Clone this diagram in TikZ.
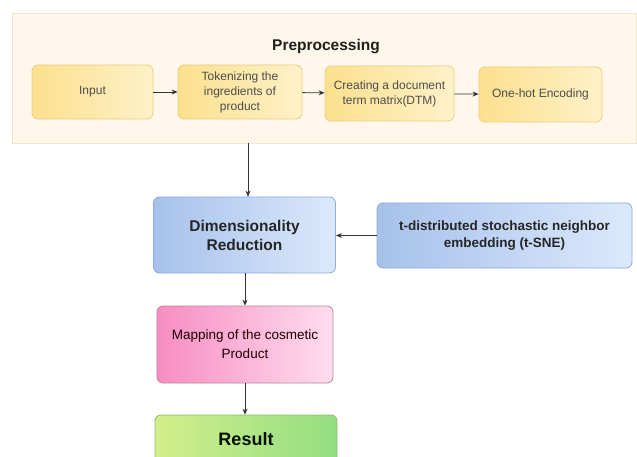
\documentclass[tikz,border=0pt]{standalone}
\usepackage{fontspec}
\setmainfont{Liberation Sans}
\usetikzlibrary{arrows.meta,shadows}
\definecolor{lineC}{HTML}{333333}
\definecolor{preFill}{HTML}{FEF7EA}
\definecolor{preLine}{HTML}{F1E6D0}
\definecolor{yelA}{HTML}{FBE08E}
\definecolor{yelB}{HTML}{FFF1C8}
\definecolor{yelLine}{HTML}{E9CE84}
\definecolor{bluA}{HTML}{A6C1EA}
\definecolor{bluB}{HTML}{DCE9FC}
\definecolor{bluLine}{HTML}{8FAAD6}
\definecolor{pnkA}{HTML}{F78DC2}
\definecolor{pnkB}{HTML}{FFDDEE}
\definecolor{pnkLine}{HTML}{B9849E}
\definecolor{grnA}{HTML}{D3EE8A}
\definecolor{grnB}{HTML}{93DE82}
\definecolor{grnLine}{HTML}{8DBB72}
\tikzset{
  x=1pt, y=-1pt,
  box/.style={rectangle, rounded corners=6pt, align=center, inner sep=2pt},
  yelbox/.style={box, draw=yelLine, line width=0.8pt, left color=yelA, right color=yelB,
     text=black!70, font=\fontsize{12}{15}\selectfont},
  blubox/.style={box, draw=bluLine, line width=0.8pt, left color=bluA, right color=bluB, text=black!85},
  arr/.style={draw=lineC, line width=0.8pt, -{Stealth[length=6pt,width=5pt]}}
}
\begin{document}
\begin{tikzpicture}
\clip (0,0) rectangle (637,457);
\fill[white] (0,0) rectangle (637,457);
% preprocessing container
\node[rectangle, draw=preLine, fill=preFill, minimum width=624pt, minimum height=130pt, inner sep=0pt] (pre) at (324,78) {};
\node[font=\fontsize{15.5}{18}\selectfont\bfseries, text=black!88] (pretitle) at (326,47) {Preprocessing};
\node[yelbox, minimum width=121pt, minimum height=54pt] (inp) at (92.5,92) {Input};
\node[yelbox, minimum width=124pt, minimum height=54pt] (tok) at (240,92) {Tokenizing the\\ingredients of\\product};
\node[yelbox, minimum width=129pt, minimum height=55pt] (dtm) at (389.5,93.5) {Creating a document\\term matrix(DTM)};
\node[yelbox, minimum width=123pt, minimum height=55pt] (ohe) at (540.5,94.5) {One-hot Encoding};
\draw[arr] (inp) -- (tok);
\draw[arr] (tok) -- (dtm);
\draw[arr] (dtm) -- (ohe);
% main column
\node[blubox, minimum width=182pt, minimum height=76pt, font=\fontsize{15.5}{19}\selectfont\bfseries] (dr) at (244.5,235) {Dimensionality\\Reduction};
\node[blubox, minimum width=255pt, minimum height=65pt, font=\fontsize{13.5}{17}\selectfont\bfseries] (tsne) at (504.5,235.5) {t-distributed stochastic neighbor\\embedding (t-SNE)};
\node[box, draw=pnkLine, line width=0.8pt, left color=pnkA, right color=pnkB, text=black!80!red!60!black,
  minimum width=176pt, minimum height=77pt, font=\fontsize{13.5}{19}\selectfont] (map) at (245,344.5) {Mapping of the cosmetic\\Product};
\node[box, draw=grnLine, line width=0.8pt, left color=grnA, right color=grnB, text=black!85!green!40!black,
  minimum width=182pt, minimum height=48pt, font=\fontsize{18}{21}\selectfont\bfseries] (res) at (246,439) {Result};
\draw[arr] ([xshift=3.5pt]pre.south -| dr.north) -- ([xshift=3.5pt]dr.north);
\draw[arr] (tsne.west) -- (tsne.west -| dr.east);
\draw[arr] (map.north |- dr.south) -- (map.north);
\draw[arr] (map.south) -- (map.south |- res.north);
\end{tikzpicture}
\end{document}
